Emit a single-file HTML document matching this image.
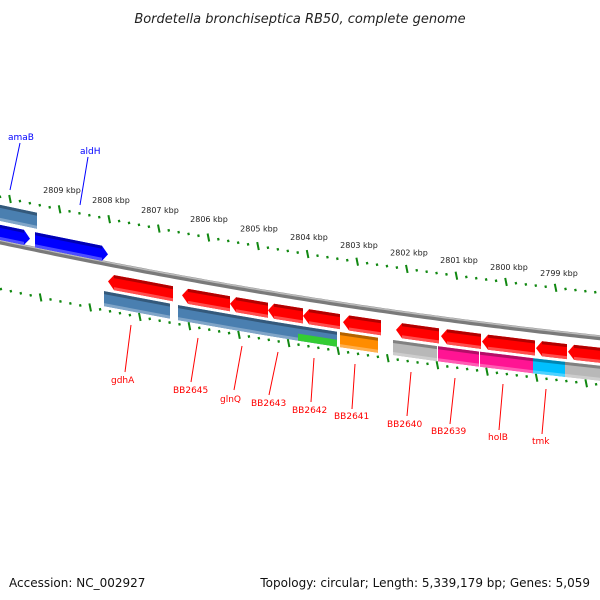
<!DOCTYPE html>
<html><head><meta charset="utf-8"><style>
body{margin:0;background:#fff}
svg{display:block}
text{font-family:"DejaVu Sans","Liberation Sans",sans-serif}
</style></head><body>
<svg id="c" width="600" height="600">
<text x="300" y="23" text-anchor="middle" font-size="13" font-style="italic" fill="#222">Bordetella bronchiseptica RB50, complete genome</text>
<text x="9" y="587" font-size="12" fill="#111">Accession: NC_002927</text>
<text x="590" y="587" font-size="12" fill="#111" text-anchor="end">Topology: circular; Length: 5,339,179 bp; Genes: 5,059</text>
<g id="g"></g>
</svg>
<script>
const kbpLabels=[2809,2808,2807,2806,2805,2804,2803,2802,2801,2800,2799];
const kbpX=[10,59,108,157,207,257,307,357,407,457,507,557];
// genes: [x1, x2, color, row, direction]
const geneStart=[0,0,35,108,182,230,268,303,343,396,441,482,536,568,104,178,230,268,298,340,393,438,480,533,565];
const geneEnd=[37,30,108,173,230,268,303,340,381,439,481,535,567,600,170,230,268,298,337,378,437,479,533,565,600];
const geneColor=['#4a7fb0','#0000ff','#0000ff','#ff0000','#ff0000','#ff0000','#ff0000','#ff0000','#ff0000','#ff0000','#ff0000','#ff0000','#ff0000','#ff0000','#4a7fb0','#4a7fb0','#4a7fb0','#4a7fb0','#4a7fb0','#ff8c00','#b8b8b8','#ff1493','#ff1493','#00bfff','#b8b8b8'];
const geneRow=[0,1,1,2,2,2,2,2,2,2,2,2,2,2,3,3,3,3,3,3,3,3,3,3,3];
const geneDir=[0,1,1,-1,-1,-1,-1,-1,-1,-1,-1,-1,-1,-1,0,0,0,0,0,0,0,0,0,0,0];
const labelNames=['amaB','aldH','gdhA','BB2645','glnQ','BB2643','BB2642','BB2641','BB2640','BB2639','holB','tmk'];
const labelX=[8,80,111,173,220,251,292,334,387,431,488,532];
const labelY=[140,154,383,393,402,406,413,419,427,434,440,444];
const lineFrom=[[20,143],[88,157],[131,325],[198,338],[242,346],[278,352],[314,358],[355,364],[411,372],[455,378],[503,384],[546,389]];
const lineTo=[[10,190],[80,205],[125,372],[191,382],[234,390],[269,395],[311,402],[352,409],[407,416],[450,424],[499,430],[542,434]];
const labelColor=['#0000ff','#0000ff','#ff0000','#ff0000','#ff0000','#ff0000','#ff0000','#ff0000','#ff0000','#ff0000','#ff0000','#ff0000'];

const rowTop=[8,28,55,73], rowH=[16,15,15,15];
const f=x=>199+0.2119*(x-10)-0.0000899*(x-10)*(x-10);
const ns='http://www.w3.org/2000/svg', G=document.getElementById('g');
function mk(t,a){const e=document.createElementNS(ns,t);for(const k in a)e.setAttribute(k,a[k]);G.appendChild(e);return e;}

// backbone
let d='';for(let x=-5;x<=605;x+=5)d+=(x<0?'M':'L')+x+','+(f(x)+45).toFixed(1);
let bb=mk('path',{d:d,stroke:'#7a7a7a',fill:'none','stroke-width':5});


let bb2=mk('path',{d:d,stroke:'#bbb',fill:'none','stroke-width':1.5,transform:'translate(0,-1.5)'});



// ticks
function ticks(off,shift,name){
  const sp=49.6;
  for(let i=-2;i<70;i++){
    const x=kbpX[0]+shift+i*sp/5; if(x<-2||x>602)continue;
    const y=f(x)+off, major=(i%5===0);
    const e=mk('line',{x1:x-(major?0.8:0.3),y1:y-(major?4:1.2),x2:x+(major?0.8:0.3),y2:y+(major?4:1.2),stroke:'#118811','stroke-width':major?2:2.2});
    
    
  }
}
ticks(0,0,'top-scale-tick');ticks(92,-19,'bottom-scale-tick');
kbpLabels.forEach((k,i)=>{const x=kbpX[i];const t=mk('text',{x:x+52,y:f(x)-6,'font-size':8,fill:'#222','text-anchor':'middle'});t.textContent=k+' kbp';

});

function shade(c,k){const n=parseInt(c.slice(1),16);let r=n>>16,g=(n>>8)&255,b=n&255;
 const m=v=>Math.round(k<0?v*(1+k):v+(255-v)*k);return 'rgb('+m(r)+','+m(g)+','+m(b)+')';}
geneStart.forEach((x1,i)=>{
  const x2=geneEnd[i],r=geneRow[i],o1=rowTop[r],h=rowH[r],c=geneColor[i],dir=geneDir[i];
  const y=(x,o)=>(f(x)+o).toFixed(1), hl=6;
  let pts;
  if(dir===1) pts=[[x1,o1],[x2-hl,o1],[x2,o1+h/2],[x2-hl,o1+h],[x1,o1+h]];
  else if(dir===-1) pts=[[x1+hl,o1],[x2,o1],[x2,o1+h],[x1+hl,o1+h],[x1,o1+h/2]];
  else pts=[[x1,o1],[x2,o1],[x2,o1+h],[x1,o1+h]];
  const p=mk('polygon',{points:pts.map(q=>q[0]+','+y(q[0],q[1])).join(' '),fill:c});
  
  
  const a=x1+(dir===-1?hl:0),b=x2-(dir===1?hl:0);
  mk('polygon',{points:`${a},${y(a,o1)} ${b},${y(b,o1)} ${b},${y(b,o1+3)} ${a},${y(a,o1+3)}`,fill:shade(c,-0.3)});
  mk('polygon',{points:`${a},${y(a,o1+h-3)} ${b},${y(b,o1+h-3)} ${b},${y(b,o1+h)} ${a},${y(a,o1+h)}`,fill:shade(c,0.3)});
});
// green lower half of split gene
{const a=298,b=337,o=81;const p=mk('polygon',{points:`${a},${(f(a)+o).toFixed(1)} ${b},${(f(b)+o).toFixed(1)} ${b},${(f(b)+o+7).toFixed(1)} ${a},${(f(a)+o+7).toFixed(1)}`,fill:'#33cc33'});

}

labelNames.forEach((n,i)=>{
  const l=mk('line',{x1:lineFrom[i][0],y1:lineFrom[i][1],x2:lineTo[i][0],y2:lineTo[i][1],stroke:labelColor[i],'stroke-width':1});
  
  
  const t=mk('text',{x:labelX[i],y:labelY[i],'font-size':9,fill:labelColor[i]});t.textContent=n;
  
  
});
</script>
</body></html>
